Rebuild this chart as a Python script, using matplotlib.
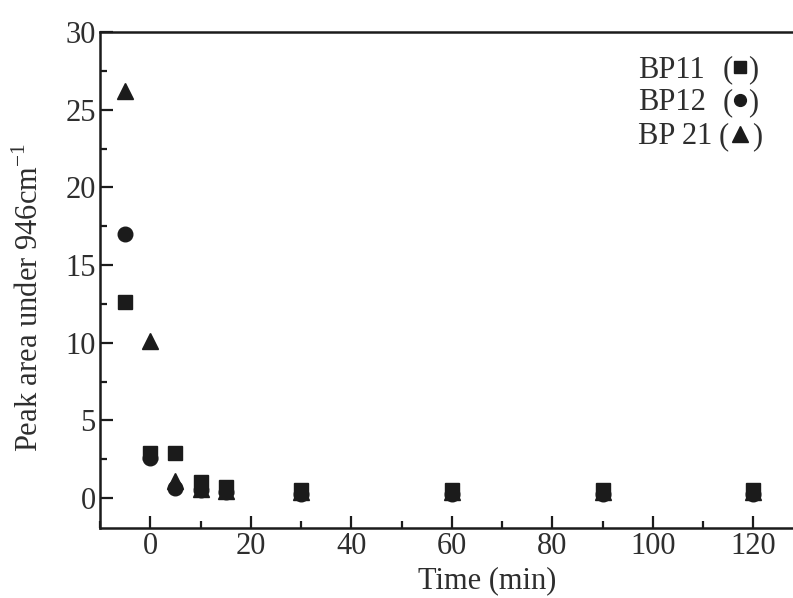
import matplotlib.pyplot as plt
from matplotlib.ticker import MultipleLocator

plt.rcParams['font.family'] = ['Liberation Serif', 'DejaVu Serif']
plt.rcParams['mathtext.fontset'] = 'custom'
plt.rcParams['mathtext.rm'] = 'Liberation Serif'

# data
time = [-5, 0, 5, 10, 15, 30, 60, 90, 120]
bp11 = [12.6, 2.9, 2.9, 1.0, 0.7, 0.5, 0.5, 0.5, 0.5]
bp12 = [17.0, 2.55, 0.65, 0.5, 0.4, 0.25, 0.25, 0.25, 0.25]
bp21 = [26.2, 10.1, 1.1, 0.6, 0.45, 0.4, 0.4, 0.4, 0.4]

labels = ["BP11", "BP12", "BP 21"]
markers = ['s', 'o', '^']

W, H = 793, 598
AX_L, AX_B, AX_W, AX_H = 100, 70, 703.5, 496


def fx(px):
    return (px - AX_L) / AX_W


def fy(py):
    return (H - AX_B - py) / AX_H


fig = plt.figure(figsize=(W / 100, H / 100), dpi=100)
ax = fig.add_axes([AX_L / W, AX_B / H, AX_W / W, AX_H / H])

col = '#1b1b1b'
txt = '#2e2e2e'
ax.plot(time, bp11, 's', color=col, markersize=10, linestyle='none')
ax.plot(time, bp12, 'o', color=col, markersize=10.5, linestyle='none')
ax.plot(time, bp21, '^', color=col, markersize=11.5, linestyle='none')

ax.set_xlim(-10, 130)
ax.set_ylim(-1.93, 30)
ax.xaxis.set_major_locator(MultipleLocator(20))
ax.xaxis.set_minor_locator(MultipleLocator(10))
ax.yaxis.set_major_locator(MultipleLocator(5))
ax.yaxis.set_minor_locator(MultipleLocator(2.5))
ax.tick_params(which='both', direction='in', width=1.6, colors=col,
               labelcolor=txt, labelsize=22, top=False, right=False)
ax.tick_params(which='major', length=9, pad=3)
ax.tick_params(which='minor', length=5)
for s in ax.spines.values():
    s.set_linewidth(1.8)
    s.set_color(col)

ax.set_xlabel("Time (min)", fontsize=22, color=txt)
ax.set_ylabel("Peak area under 946cm$^{\\mathrm{-1}}$", fontsize=22, color=txt)
ax.xaxis.set_label_coords(fx(487), fy(566))
ax.yaxis.set_label_coords(fx(45), fy(297))

# text legend: "BP11 (■)" etc.
rows_y = [70, 103, 137]
msizes = [8, 8.5, 11]
for lab, mk, ms, py in zip(labels, markers, msizes, rows_y):
    y = fy(py)
    ax.text(fx(638), y, lab, transform=ax.transAxes, fontsize=22,
            color=txt, ha='left', va='center')
    half = 6 if mk != '^' else 10
    ax.text(fx(740 - half - 1), y, "(", transform=ax.transAxes, fontsize=22,
            color=txt, ha='right', va='center')
    ax.text(fx(740 + half + 2), y, ")", transform=ax.transAxes, fontsize=22,
            color=txt, ha='left', va='center')
    ax.plot([fx(740)], [fy(py - 3)], mk, color=col, markersize=ms,
            transform=ax.transAxes, clip_on=False)

fig.savefig("out.png", dpi=100)
